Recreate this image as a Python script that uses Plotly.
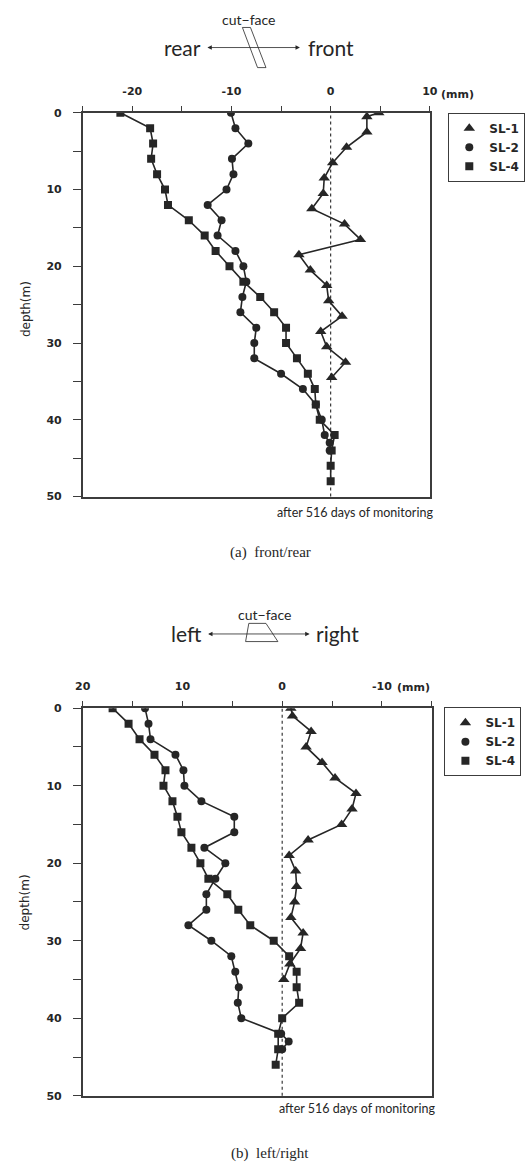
import plotly.graph_objects as go

W, H = 530, 1173

# ---- (a) front/rear : displacement (mm) vs depth (m) ----
a_sl1_depth = [0, 0.5, 2.5, 4.5, 6.5, 8.5, 10.5, 12.5, 14.5, 16.5, 18.5, 20.5, 22.5, 24.5,
               26.5, 28.5, 30.5, 32.5, 34.5]
a_sl1_disp = [4.85, 3.65, 3.65, 1.6, 0.2, -0.65, -0.75, -1.9, 1.4, 3.0, -3.2, -2.05, -0.4, -0.2,
              1.15, -1.0, -0.4, 1.5, 0.1]

a_sl2_depth = [0, 2, 4, 6, 8, 10, 12, 14, 16, 18, 20, 22, 24, 26, 28, 30, 32, 34, 36, 38, 40,
               42, 43, 44]
a_sl2_disp = [-10.05, -9.6, -8.3, -9.95, -9.8, -10.5, -12.4, -11.0, -11.4, -9.6, -8.8, -8.5,
              -8.9, -9.1, -7.5, -7.7, -7.7, -5.0, -2.8, -1.5, -0.9, -0.6, -0.1, -0.1]

a_sl4_depth = [0, 2, 4, 6, 8, 10, 12, 14, 16, 18, 20, 22, 24, 26, 28, 30, 32, 34, 36, 38, 40,
               42, 44, 46, 48]
a_sl4_disp = [-21.2, -18.2, -17.9, -18.1, -17.5, -16.7, -16.4, -14.3, -12.7, -11.6, -10.2, -8.8,
              -7.1, -5.7, -4.5, -4.5, -3.4, -2.3, -1.6, -1.5, -1.1, 0.4, 0.1, 0.0, 0.0]

# ---- (b) left/right ----
b_sl1_depth = [0, 1, 3, 5, 7, 9, 11, 13, 15, 17, 19, 21, 23, 25, 27, 29, 31, 33, 35]
b_sl1_disp = [-0.87, -1.03, -2.9, -2.4, -4.0, -5.3, -7.4, -7.0, -5.96, -2.6, -0.7, -1.35,
              -1.45, -1.25, -0.87, -2.1, -1.84, -0.77, -0.16]

b_sl2_depth = [0, 2, 4, 6, 8, 10, 12, 14, 16, 18, 20, 22, 24, 26, 28, 30, 32, 34, 36, 38, 40,
               42, 43, 44]
b_sl2_disp = [13.75, 13.4, 13.2, 10.7, 9.9, 9.8, 8.1, 4.8, 4.8, 7.8, 5.7, 6.7, 7.6, 7.6, 9.4,
              7.1, 5.1, 4.7, 4.35, 4.45, 4.1, 0.1, -0.65, 0.0]

b_sl4_depth = [0, 2, 4, 6, 8, 10, 12, 14, 16, 18, 20, 22, 24, 26, 28, 30, 32, 34, 36, 38, 40,
               42, 44, 46]
b_sl4_disp = [17.0, 15.4, 14.3, 12.8, 11.7, 11.9, 11.0, 10.5, 10.1, 9.1, 8.2, 7.4, 5.5, 4.4,
              3.2, 0.85, -0.7, -1.45, -1.45, -1.7, 0.0, 0.4, 0.4, 0.65]

series_names = ["SL-1", "SL-2", "SL-4"]
symbols = ["triangle-up", "circle", "square"]
marker_sizes = [10, 8, 8]

a_x_ticks = [-25, -20, -15, -10, -5, 0, 5, 10]
a_x_labels = ["", "-20", "", "-10", "", "0", "", "10"]
b_x_ticks = [20, 15, 10, 5, 0, -5, -10, -15]
b_x_labels = ["20", "", "10", "", "0", "", "-10", ""]
y_ticks = [0, 5, 10, 15, 20, 25, 30, 35, 40, 45, 50]
y_labels = ["0", "", "10", "", "20", "", "30", "", "40", "", "50"]

INK = "#262626"
AXIS = "#3c3c3c"
TICK_FONT = dict(family="DejaVu Sans", size=11, color=INK, weight="bold")
TEXT_FONT = "Lato"


def px(x):
    return x / W


def py(y):
    return 1 - y / H


fig = go.Figure()

panels = [
    ("x", "y", "legend", [(a_sl1_depth, a_sl1_disp), (a_sl2_depth, a_sl2_disp), (a_sl4_depth, a_sl4_disp)]),
    ("x2", "y2", "legend2", [(b_sl1_depth, b_sl1_disp), (b_sl2_depth, b_sl2_disp), (b_sl4_depth, b_sl4_disp)]),
]

for xa, ya, lg, data in panels:
    for (depth, disp), name, sym, ms in zip(data, series_names, symbols, marker_sizes):
        # connecting line
        fig.add_trace(go.Scatter(
            x=disp, y=depth, xaxis=xa, yaxis=ya, mode="lines",
            line=dict(color=INK, width=1.6), showlegend=False, hoverinfo="skip"))
        # point markers (also the legend entry)
        fig.add_trace(go.Scatter(
            x=disp, y=depth, xaxis=xa, yaxis=ya, mode="markers", name=name, legend=lg,
            marker=dict(symbol=sym, size=ms, color=INK, line=dict(width=0))))

common_x = dict(side="top", showline=True, linecolor=AXIS, linewidth=1.5, mirror=True,
                ticks="outside", ticklen=5, tickwidth=1.2, tickcolor=AXIS,
                showgrid=False, zeroline=False, tickfont=TICK_FONT, tickmode="array",
                ticklabelstandoff=7)
common_y = dict(autorange=False, showline=True, linecolor=AXIS, linewidth=1.5, mirror=True,
                ticks="outside", ticklen=8, tickwidth=1.2, tickcolor=AXIS,
                showgrid=False, zeroline=False, tickfont=TICK_FONT, tickmode="array",
                tickvals=y_ticks, ticktext=y_labels, range=[50, 0], ticklabelstandoff=9)

fig.update_layout(
    width=W, height=H, margin=dict(l=0, r=0, t=0, b=0),
    paper_bgcolor="white", plot_bgcolor="white",
    xaxis=dict(common_x, domain=[px(77), px(435)], anchor="y", range=[-25, 10],
               tickvals=a_x_ticks, ticktext=a_x_labels),
    yaxis=dict(common_y, domain=[py(496), py(108)], anchor="x"),
    xaxis2=dict(common_x, domain=[px(77), px(437)], anchor="y2", range=[20, -15],
                tickvals=b_x_ticks, ticktext=b_x_labels),
    yaxis2=dict(common_y, domain=[py(1102), py(710)], anchor="x2"),
    legend=dict(x=px(454), y=py(108), xanchor="left", yanchor="top",
                bordercolor=AXIS, borderwidth=1, bgcolor="white",
                font=dict(family="DejaVu Sans", size=12, color=INK, weight="bold"),
                itemwidth=30, tracegroupgap=0),
    legend2=dict(x=px(450), y=py(709), xanchor="left", yanchor="top",
                 bordercolor=AXIS, borderwidth=1, bgcolor="white",
                 font=dict(family="DejaVu Sans", size=12, color=INK, weight="bold"),
                 itemwidth=30, tracegroupgap=0),
    showlegend=True,
)

# zero reference lines
for xr, yr in [("x", "y domain"), ("x2", "y2 domain")]:
    fig.add_shape(type="line", xref=xr, yref=yr, x0=0, x1=0, y0=0, y1=1,
                  line=dict(color=INK, width=1.1, dash="3px,3px"), layer="below")

ann = []


def text(x, y, s, size, family=TEXT_FONT, xanchor="center", color=INK, angle=0, weight="normal"):
    ann.append(dict(x=px(x), y=py(y), xref="paper", yref="paper", text=s, showarrow=False,
                    xanchor=xanchor, yanchor="middle", textangle=angle,
                    font=dict(family=family, size=size, color=color, weight=weight)))


def arrow(x0, x1, y):
    ann.append(dict(x=px(x1), y=py(y), xref="paper", yref="paper", text="",
                    showarrow=True, ax=x0 - x1, ay=0, axref="pixel", ayref="pixel",
                    arrowhead=2, arrowside="end+start", arrowsize=1.1, arrowwidth=0.8,
                    arrowcolor=INK, standoff=0, startstandoff=0))


# header (a)
text(248, 14, "cut\u2212face", 14)
text(201, 42, "rear", 21, xanchor="right")
text(307, 42, "front", 21, xanchor="left")
arrow(207, 301, 42)
# header (b)
text(264, 615, "cut\u2212face", 14)
text(202, 635, "left", 21, xanchor="right")
text(316, 635, "right", 21, xanchor="left")
arrow(208, 311, 635)

# units
text(463, 89, "(mm)", 11, family="DejaVu Sans", weight="bold")
text(418, 689, "(mm)", 11, family="DejaVu Sans", weight="bold")

# depth titles
text(18, 306, "depth(m)", 12, family="DejaVu Sans", angle=-90)
text(18, 906, "depth(m)", 12, family="DejaVu Sans", angle=-90)

# footnotes
text(440, 512, "after 516 days of monitoring", 12.5, xanchor="right")
text(442, 1115, "after 516 days of monitoring", 12.5, xanchor="right")

# captions
text(271, 553, "(a)  front/rear", 15, family="Liberation Serif")
text(270, 1160, "(b)  left/right", 15, family="Liberation Serif")

fig.update_layout(annotations=ann)


def poly(points):
    d = "M " + " L ".join(f"{px(x):.5f},{py(y):.5f}" for x, y in points) + " Z"
    return dict(type="path", xref="paper", yref="paper", path=d,
                line=dict(color=INK, width=0.8), fillcolor="rgba(0,0,0,0)")


# cut-face symbols
fig.add_shape(**poly([(241.7, 21.7), (250.0, 21.7), (266.0, 62.3), (257.3, 62.3)]))
fig.add_shape(**poly([(248.3, 624.3), (266.0, 624.3), (278.3, 642.7), (245.0, 642.7)]))

fig.write_html("out.html")
